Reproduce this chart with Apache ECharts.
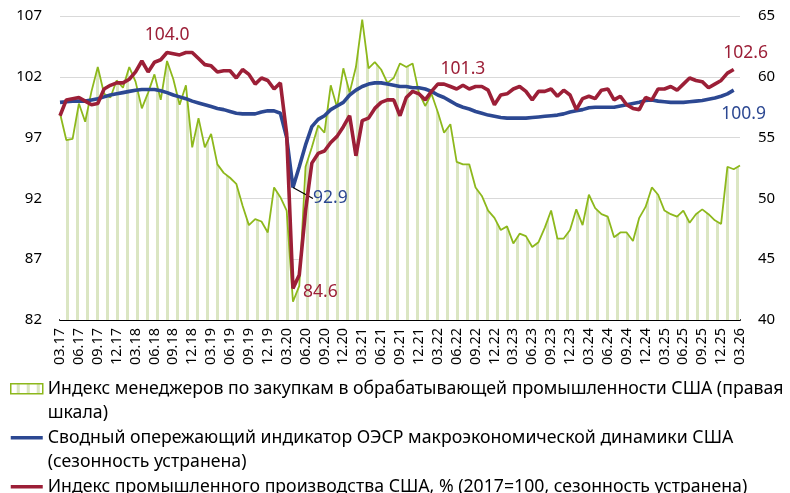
<!DOCTYPE html>
<html>
<head>
<meta charset="utf-8">
<script src="https://cdn.jsdelivr.net/npm/echarts@6/dist/echarts.min.js"></script>
<style>
  html, body { margin: 0; padding: 0; background: #fff; }
  #chart { width: 790px; height: 493px; }
</style>
</head>
<body>
<div id="chart"></div>
<script>
// месяцы 03.17 ... 03.26
var months = [];
for (var y = 17; y <= 26; y++) {
  for (var m = 1; m <= 12; m++) {
    if ((y === 17 && m < 3) || (y === 26 && m > 3)) continue;
    months.push((m < 10 ? '0' + m : '' + m) + '.' + y);
  }
}

// ISM PMI, правая шкала (03.17 - 03.26)
var pmi = [
  57.0, 54.8, 54.9, 57.8, 56.3, 58.8, 60.8, 58.6, 58.3, 59.7,
  59.1, 60.8, 59.6, 57.4, 58.7, 60.2, 58.1, 61.3, 59.8, 57.7,
  59.3, 54.2, 56.6, 54.2, 55.3, 52.8, 52.1, 51.7, 51.2, 49.4,
  47.8, 48.3, 48.1, 47.2, 50.9, 50.1, 49.0, 41.5, 42.8, 52.6,
  54.2, 56.0, 55.4, 59.3, 57.5, 60.7, 58.7, 60.8, 64.7, 60.7,
  61.2, 60.6, 59.5, 59.9, 61.1, 60.8, 61.1, 58.7, 57.6, 58.6,
  57.1, 55.4, 56.1, 53.0, 52.8, 52.8, 50.9, 50.2, 49.0, 48.4,
  47.4, 47.7, 46.3, 47.1, 46.9, 46.0, 46.4, 47.6, 49.0, 46.7,
  46.7, 47.4, 49.1, 47.8, 50.3, 49.2, 48.7, 48.5, 46.8, 47.2,
  47.2, 46.5, 48.4, 49.3, 50.9, 50.3, 49.0, 48.7, 48.5, 49.0,
  48.0, 48.7, 49.1, 48.7, 48.2, 47.9, 52.6, 52.4, 52.7
];

// CLI ОЭСР (03.17 - 02.26)
var cli = [
  99.9, 99.95, 100.0, 100.0, 100.0, 100.1, 100.2, 100.35, 100.5, 100.6,
  100.7, 100.8, 100.9, 100.95, 100.95, 100.95, 100.85, 100.7, 100.5, 100.35,
  100.2, 100.0, 99.85, 99.7, 99.55, 99.4, 99.3, 99.15, 99.0, 98.95,
  98.95, 98.95, 99.1, 99.2, 99.2, 99.0, 97.0, 92.9, 94.6, 96.4,
  97.9, 98.5, 98.8, 99.3, 99.6, 99.9, 100.5, 100.9, 101.2, 101.4,
  101.5, 101.5, 101.4, 101.3, 101.2, 101.2, 101.1, 101.1, 101.0, 100.8,
  100.5, 100.3, 100.0, 99.7, 99.5, 99.35, 99.15, 99.0, 98.85, 98.75,
  98.65, 98.6, 98.6, 98.6, 98.6, 98.65, 98.7, 98.75, 98.8, 98.85,
  98.95, 99.1, 99.2, 99.3, 99.45, 99.5, 99.5, 99.5, 99.5, 99.6,
  99.7, 99.8, 99.9, 100.05, 100.1, 100.0, 99.95, 99.9, 99.9, 99.9,
  99.95, 100.0, 100.05, 100.15, 100.25, 100.4, 100.6, 100.9
];

// промышленное производство, 2017=100 (03.17 - 02.26)
var ip = [
  98.8, 100.1, 100.2, 100.3, 100.0, 99.7, 99.8, 101.0, 101.3, 101.5,
  101.5, 101.8, 102.4, 103.3, 102.4, 103.2, 103.4, 104.0, 103.9, 103.8,
  104.0, 104.0, 103.5, 103.0, 102.9, 102.4, 102.5, 102.5, 101.9, 102.6,
  102.2, 101.4, 101.9, 101.7, 101.0, 101.5, 97.3, 84.6, 85.7, 91.0,
  94.9, 95.7, 95.9, 96.6, 97.1, 97.9, 98.8, 95.5, 98.4, 98.6,
  99.4, 99.9, 100.1, 100.1, 98.8, 100.3, 100.8, 100.6, 100.1, 100.8,
  101.4, 101.4, 101.2, 101.0, 101.3, 101.0, 101.2, 101.2, 100.9, 99.7,
  100.5, 100.6, 101.0, 101.2, 100.8, 100.1, 100.8, 100.8, 101.0, 100.4,
  100.9, 100.5, 99.3, 100.2, 100.4, 100.2, 100.9, 101.0, 100.1, 100.4,
  99.7, 99.4, 99.3, 100.3, 100.1, 101.0, 101.0, 101.2, 100.9, 101.4,
  101.9, 101.7, 101.6, 101.1, 101.4, 101.7, 102.3, 102.6
];

var namePmi = 'Индекс менеджеров по закупкам в обрабатывающей промышленности США (правая\nшкала)';
var nameCli = 'Сводный опережающий индикатор ОЭСР макроэкономической динамики США\n(сезонность устранена)';
var nameIp = 'Индекс промышленного производства США, % (2017=100, сезонность устранена)';

var GREEN = '#8db81c', BLUE = '#2c4892', RED = '#9c1f37';
var FONT = 'Noto Sans';

// штриховка для PMI
var stripe = document.createElement('canvas');
stripe.width = 10; stripe.height = 10;
var sctx = stripe.getContext('2d');
sctx.fillStyle = '#ffffff'; sctx.fillRect(0, 0, 10, 10);
sctx.fillStyle = '#dbe6c3'; sctx.fillRect(6, 0, 3, 10);
var stripeFill = { image: stripe, repeat: 'repeat' };

function fmt(p) { return p.value.toFixed(1); }

function withLabels(values, labels) {
  return values.map(function (v, i) {
    if (!labels[i]) return v;
    var item = { value: v, label: labels[i].label };
    if (labels[i].labelLine) item.labelLine = labels[i].labelLine;
    return item;
  });
}

var CLI_MIN = 37;   // минимум 04.20 с выноской
var CLI_LAST = 107; // последнее значение

var ipLabels = {};
ipLabels[17] = { label: { show: true, position: 'top', distance: 8 } };
ipLabels[64] = { label: { show: true, position: 'top', distance: 7 } };
ipLabels[107] = { label: { show: true, position: 'top', distance: 7, offset: [12, 0] } };
ipLabels[37] = { label: { show: true, position: 'right', distance: 10, offset: [0, 4] } };

var cliLabels = {};
cliLabels[CLI_MIN] = {
  label: { show: true, position: 'right', distance: 20 },
  labelLine: { show: true, lineStyle: { color: '#000', width: 1.2 } }
};
cliLabels[CLI_LAST] = { label: { show: true, position: 'bottom', distance: 5 } };

// сдвиги подписей CLI и выноска: вниз от точки, затем вправо к подписи
function cliLabelLayout(p) {
  if (p.dataIndex === CLI_LAST) return { dx: 10, dy: 10 };
  if (p.dataIndex !== CLI_MIN) return {};
  var r = p.rect, lr = p.labelRect;
  var px = r.x + r.width / 2, py = r.y + r.height / 2;
  var dy = 11;
  var cy = lr.y + lr.height / 2 + dy;
  return { dy: dy, labelLinePoints: [[px + 1, py + 2], [px + 3, cy], [lr.x - 5, cy]] };
}

var chart = echarts.init(document.getElementById('chart'));
chart.setOption({
  animation: false,
  textStyle: { fontFamily: FONT },
  grid: { left: 60, right: 50, top: 16, bottom: 173, outerBoundsMode: 'none' },
  legend: {
    orient: 'vertical',
    left: 10,
    top: 352,
    height: 300,
    padding: 0,
    itemGap: -24.5,
    itemWidth: 32,
    itemHeight: 10,
    selectedMode: false,
    formatter: function (name) {
      return '\n' + (name.indexOf('\n') >= 0 ? name : name + '\n ');
    },
    textStyle: { fontFamily: FONT, fontSize: 17.7, lineHeight: 24.5, color: '#000' },
    data: [
      { name: namePmi, icon: 'rect', itemStyle: { color: stripeFill, borderColor: GREEN, borderWidth: 1.5 } },
      { name: nameCli, icon: 'path://M0,0H32V3.6H0Z', itemStyle: { color: BLUE } },
      { name: nameIp, icon: 'path://M0,0H32V3.6H0Z', itemStyle: { color: RED } }
    ]
  },
  xAxis: {
    type: 'category',
    data: months,
    boundaryGap: false,
    axisLine: { lineStyle: { color: '#000', width: 2 } },
    axisTick: { show: false },
    axisLabel: { interval: 2, rotate: 90, margin: 8, fontSize: 14.5, color: '#000', fontFamily: FONT },
    splitLine: { show: false }
  },
  yAxis: [
    {
      type: 'value', min: 82, max: 107, interval: 5,
      axisLine: { show: false }, axisTick: { show: false },
      axisLabel: { margin: 18, fontSize: 15, color: '#000', fontFamily: FONT },
      splitLine: { lineStyle: { color: '#d9d9d9', width: 1 } }
    },
    {
      type: 'value', min: 40, max: 65, interval: 5, position: 'right',
      axisLine: { show: false }, axisTick: { show: false },
      axisLabel: { margin: 18, fontSize: 15, color: '#000', fontFamily: FONT },
      splitLine: { show: false }
    }
  ],
  series: [
    {
      name: namePmi,
      type: 'line',
      yAxisIndex: 1,
      data: pmi,
      symbol: 'none',
      itemStyle: { color: GREEN },
      lineStyle: { color: GREEN, width: 1.8 },
      areaStyle: { color: stripeFill, opacity: 1, origin: 'start' },
      z: 1
    },
    {
      name: nameCli,
      type: 'line',
      yAxisIndex: 0,
      data: withLabels(cli, cliLabels),
      symbol: 'circle',
      symbolSize: 0,
      showSymbol: true,
      showAllSymbol: true,
      itemStyle: { color: BLUE },
      lineStyle: { color: BLUE, width: 3.6 },
      label: { show: false, formatter: fmt, color: BLUE, fontSize: 17.5, fontFamily: FONT },
      labelLayout: cliLabelLayout,
      z: 2
    },
    {
      name: nameIp,
      type: 'line',
      yAxisIndex: 0,
      data: withLabels(ip, ipLabels),
      symbol: 'circle',
      symbolSize: 0,
      showSymbol: true,
      showAllSymbol: true,
      itemStyle: { color: RED },
      lineStyle: { color: RED, width: 3.6 },
      label: { show: false, formatter: fmt, color: RED, fontSize: 17.5, fontFamily: FONT },
      z: 3
    }
  ]
});
</script>
</body>
</html>
